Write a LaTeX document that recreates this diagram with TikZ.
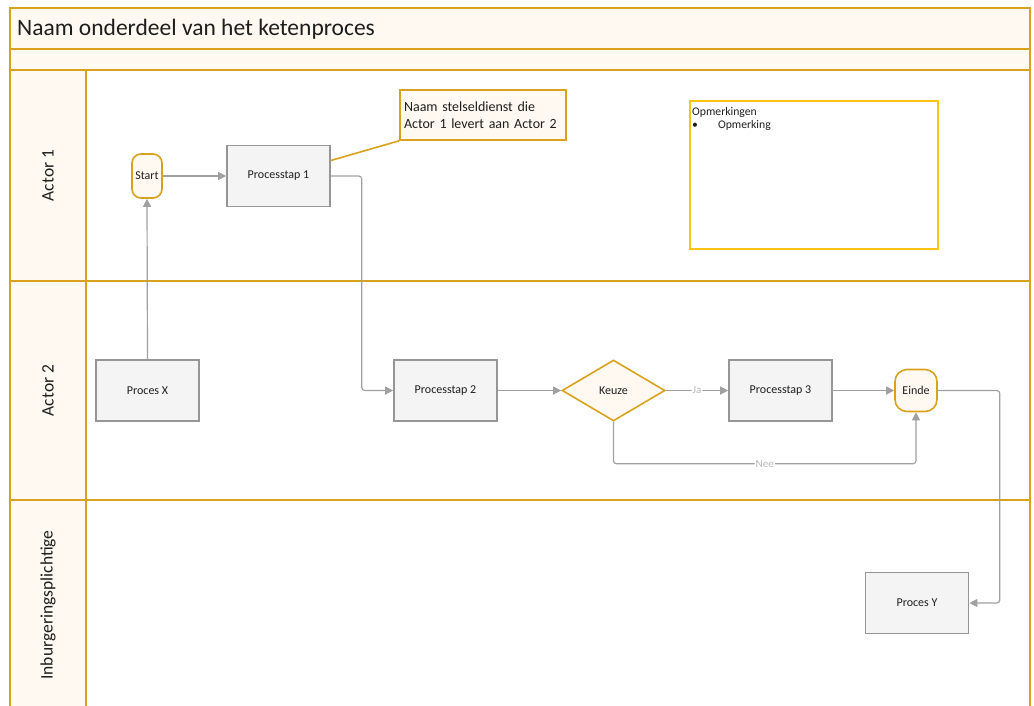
\documentclass[tikz,border=0pt]{standalone}
\usepackage{fontspec}
\setmainfont{Carlito}
\usetikzlibrary{shapes.geometric,arrows.meta}

\definecolor{baanGoud}{RGB}{218,162,28}
\definecolor{baanCreme}{RGB}{255,249,241}
\definecolor{stapGrijs}{RGB}{150,150,150}
\definecolor{stapVul}{RGB}{244,244,244}
\definecolor{lijnGrijs}{RGB}{160,160,160}
\definecolor{labelGrijs}{RGB}{185,185,185}
\definecolor{notaGeel}{RGB}{255,195,20}
\definecolor{tekstZwart}{RGB}{30,30,30}

\tikzset{
  stap/.style={draw=stapGrijs, line width=1.6pt, fill=stapVul, minimum width=103pt, minimum height=61pt, inner sep=0pt, text=tekstZwart, font=\fontsize{12}{14}\selectfont},
  eindpunt/.style={draw=baanGoud, line width=1.6pt, fill=baanCreme, rounded corners=9pt, inner sep=0pt, text=tekstZwart, font=\fontsize{12}{14}\selectfont},
  keuzeblok/.style={diamond, draw=baanGoud, line width=1.6pt, fill=baanCreme, aspect=1.7, minimum width=103pt, minimum height=61pt, inner sep=0pt, text=tekstZwart, font=\fontsize{12}{14}\selectfont},
  stroom/.style={draw=lijnGrijs, line width=1.2pt, rounded corners=3pt, -{Triangle[length=8pt,width=8pt]}},
  stroomlabel/.style={fill=white, inner sep=1pt, text=labelGrijs, font=\fontsize{11}{13}\selectfont},
  baan/.style={draw=baanGoud, line width=2.2pt},
  baanlabel/.style={rotate=90, text=tekstZwart, font=\fontsize{17.5}{20}\selectfont},
}

\begin{document}
\begin{tikzpicture}[x=1pt,y=-1pt]
    \useasboundingbox (0,0) rectangle (1034,706);
    \clip (0,0) rectangle (1034,706);

    %Shape: Swimlane frame
    \fill[baanCreme] (10,8) rectangle (1030,70);
    \fill[baanCreme] (10,70) rectangle (86,712);
    \draw[baan] (10,712) -- (10,8) -- (1030,8) -- (1030,712);
    \draw[baan] (10,49) -- (1030,49);
    \draw[baan] (10,70) -- (1030,70);
    \draw[baan] (86,70) -- (86,712);
    \draw[baan] (10,281) -- (1030,281);
    \draw[baan] (10,500) -- (1030,500);

    % Text Node
    \node[anchor=west, inner sep=0pt, text=tekstZwart, font=\fontsize{23.5}{28}\selectfont] (titel) at (17,29) {Naam onderdeel van het ketenproces};
    \node[baanlabel] (actor1) at (48,175.5) {Actor 1};
    \node[baanlabel] (actor2) at (48,390.5) {Actor 2};
    \node[baanlabel] (inburg) at (48,605) {Inburgeringsplichtige};

    %Shape: Process steps
    \node[eindpunt, minimum width=30pt, minimum height=44pt] (start) at (147,176) {Start};
    \node[stap] (p1) at (278.5,176) {Processtap 1};
    \node[stap] (px) at (147.5,390.5) {Proces X};
    \node[stap] (p2) at (445.5,390.5) {Processtap 2};
    \node[keuzeblok] (keuze) at (613.5,390.5) {Keuze};
    \node[stap] (p3) at (780.5,390.5) {Processtap 3};
    \node[eindpunt, minimum width=42pt, minimum height=42pt, rounded corners=12pt] (einde) at (916,390.5) {Einde};
    \node[stap] (py) at (917,603) {Proces Y};

    %Shape: Callout
    \node[draw=baanGoud, line width=1.6pt, fill=baanCreme, minimum width=166pt, minimum height=50pt, inner xsep=4pt, inner ysep=6pt, text width=158pt, align=left, text=tekstZwart, font=\fontsize{14}{17.5}\selectfont] (dienst) at (483,115) {Naam stelseldienst die\\Actor 1 levert aan Actor 2};
    \draw[draw=baanGoud, line width=1.6pt] ([yshift=15.5pt]p1.east) -- (dienst.south west);

    %Shape: Remarks
    \node[draw=notaGeel, line width=2pt, minimum width=248pt, minimum height=148pt] (opm) at (814,175) {};
    \node[anchor=north west, align=left, inner sep=0pt, text=tekstZwart, font=\fontsize{11.7}{13.5}\selectfont] (opmtekst) at ([xshift=3pt,yshift=-7pt]opm.north west) {Opmerkingen\\\textbullet\hspace{20pt}Opmerking};

    %Straight Lines: flow
    \draw[stroom] (px.north) -- (start.south);
    \draw[stroom] (start.east) -- (p1.west);
    \draw[stroom] (p1.east) -- ++(31,0) |- (p2.west);
    \draw[stroom] (p2.east) -- (keuze.west);
    \draw[stroom] (keuze.east) -- (p3.west) node[stroomlabel, pos=0.5] {Ja};
    \draw[stroom] (p3.east) -- (einde.west);
    \draw[stroom] (keuze.south) -- ++(0,42) -| (einde.south) node[stroomlabel, pos=0.25] {Nee};
    \draw[stroom] (einde.east) -- ++(62,0) |- (py.east);

\end{tikzpicture}
\end{document}
